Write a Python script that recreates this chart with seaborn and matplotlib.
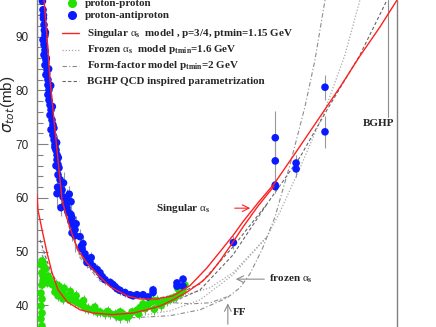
import numpy as np
import pandas as pd
import matplotlib
matplotlib.use("Agg")
import matplotlib.pyplot as plt
import seaborn as sns
from matplotlib.lines import Line2D

# ---- data: sqrt(s) in GeV, sigma_tot in mb ----
# proton-antiproton data
pbp_e = [2.05, 2.08, 2.10, 2.13, 2.15, 2.18, 2.08, 2.13, 2.18, 2.13, 2.23, 2.18, 2.29, 2.23,
         2.34, 2.34, 2.40, 2.34, 2.40, 2.46, 2.52, 2.46, 2.58, 2.64, 2.52, 2.64, 2.71, 2.77,
         2.77, 2.84, 2.91, 2.91, 2.98, 3.05, 2.84, 2.98, 3.13, 2.95, 3.28, 2.91, 3.36, 3.70,
         4.07, 3.52, 3.20, 3.70, 3.79, 4.07, 4.17, 4.07, 4.27, 4.48, 4.17, 4.48, 5.05, 5.42,
         5.30, 5.69, 5.97, 6.41, 5.97, 6.90, 7.59, 8.15, 8.55, 9.20, 10.4, 11.1, 11.7, 12.3,
         13.2, 14.9, 16.8, 18.0, 19.8, 22.9, 25.8, 29.1, 29.1, 51.7, 51.7, 59.8, 59.8,
         2.10, 2.20, 2.25, 2.38, 2.50, 2.60, 2.70, 2.88, 3.00, 3.40, 3.90, 4.60, 5.20, 6.60,
         200, 546, 546, 546, 546, 900, 900, 1800, 1800]
pbp_s = [96.6, 95.0, 93.4, 92.2, 91.2, 90.3, 89.4, 88.5, 87.5, 86.6, 85.7, 84.7, 83.8, 82.9,
         82.0, 81.0, 80.1, 79.2, 78.2, 77.3, 76.4, 75.4, 74.5, 73.6, 72.7, 71.7, 70.8, 69.9,
         69.4, 68.9, 68.0, 67.1, 66.2, 65.6, 66.0, 64.3, 63.4, 62.0, 61.5, 60.8, 60.2, 59.7,
         59.3, 58.7, 58.2, 58.2, 57.4, 56.9, 56.3, 55.7, 55.0, 54.1, 53.5, 53.0, 52.8, 51.5,
         50.5, 49.6, 48.6, 48.0, 48.0, 47.3, 46.7, 46.1, 45.4, 44.8, 44.3, 43.9, 43.5, 43.1,
         42.8, 42.4, 42.0, 41.8, 42.0, 42.0, 41.6, 42.9, 42.4, 44.2, 43.6, 44.9, 43.6,
         94.0, 90.8, 86.0, 84.0, 80.9, 77.0, 73.0, 70.3, 67.5, 62.8, 60.7, 55.2, 51.0, 48.9,
         51.7, 71.2, 66.9, 62.4, 62.1, 66.5, 65.4, 80.6, 72.3]
pbp_err = [0.5, 0.5, 0.5, 0.5, 0.5, 0.5, 0.5, 0.5, 0.5, 0.5, 0.5, 0.5, 0.5, 0.5,
           0.5, 0.5, 0.5, 0.5, 0.5, 0.5, 0.8, 0.5, 0.8, 0.8, 0.5, 0.8, 0.8, 1.0,
           1.0, 1.0, 1.0, 1.5, 1.0, 1.5, 1.0, 1.5, 2.0, 1.5, 1.5, 2.5, 1.5, 2.0,
           2.0, 2.0, 1.5, 1.5, 1.5, 1.5, 1.5, 2.5, 1.5, 1.5, 1.5, 3.0, 1.5, 1.5,
           1.5, 1.5, 1.0, 1.0, 1.0, 1.0, 1.0, 1.0, 1.0, 1.0, 0.8, 0.8, 0.8, 0.8,
           0.8, 0.8, 0.5, 0.5, 0.5, 0.5, 0.5, 1.0, 1.0, 0.8, 0.8, 0.8, 0.8,
           0.5, 0.5, 0.5, 0.5, 0.8, 0.8, 1.0, 1.5, 2.0, 2.0, 1.5, 1.5, 1.0, 1.0,
           1.2, 5.0, 5.0, 1.2, 1.2, 1.5, 1.5, 2.3, 3.0]

# proton-proton data
pp_e = [1.98, 2.03, 2.08, 2.13, 2.03, 2.08, 2.13, 2.08, 2.29, 2.03, 1.98, 2.03, 1.98, 2.03,
        1.98, 2.03, 1.98, 2.34, 2.46, 2.64, 2.91, 3.13, 3.28, 3.36, 3.52, 2.77, 2.98, 3.70,
        3.36, 3.97, 4.27, 4.48, 4.81, 5.30, 5.69, 6.11, 6.90, 7.59, 8.15, 9.20, 10.4, 11.7,
        13.2, 14.2, 15.6, 13.2, 17.6, 19.8, 21.3, 22.9, 25.2, 27.0, 29.1, 32.0, 32.8, 37.0,
        40.7, 43.7, 47.0, 55.6, 59.8, 62.7,
        2.20, 2.55, 2.85, 3.05, 3.45, 4.00, 4.60, 5.50, 7.20, 9.80, 12.0, 16.2, 20.6, 24.0,
        30.0, 35.5, 50.0, 53.0]
pp_s = [47.6, 48.3, 48.0, 47.1, 46.1, 45.5, 45.1, 44.6, 44.2, 43.8, 42.3, 41.2, 39.9, 38.6,
        37.5, 36.2, 35.7, 45.5, 44.8, 43.8, 43.3, 42.9, 42.5, 42.1, 41.8, 42.5, 41.8, 41.4,
        41.2, 41.0, 41.4, 40.8, 40.5, 40.1, 39.6, 39.4, 39.2, 38.8, 38.8, 38.5, 38.5, 38.3,
        38.8, 38.4, 37.8, 37.8, 38.8, 39.1, 39.6, 40.3, 39.9, 40.5, 40.9, 40.9, 40.5, 40.6,
        40.9, 41.2, 41.4, 42.2, 42.8, 43.8,
        46.8, 44.0, 43.9, 43.6, 43.2, 42.6, 41.8, 40.9, 39.7, 38.9, 38.2, 38.0, 38.4, 39.4,
        39.3, 40.0, 41.6, 43.1]
pp_err = [0.8] * 20 + [1.0] * 42 + [1.0] * 18

# model curves
sing_pbp_e = [2.13, 2.29, 2.46, 2.58, 2.91, 3.28, 3.61, 3.97, 4.81, 5.97, 8.15, 10.4, 15.6,
              21.3, 32.0, 47.0, 70.7, 106, 145, 198, 252, 361, 530, 919, 1596, 2576, 4158,
              6723, 10120]
sing_pbp_s = [96.8, 89.9, 82.0, 78.2, 68.9, 59.6, 56.9, 54.4, 50.3, 47.9, 45.3, 43.5, 41.8,
              41.2, 41.2, 41.8, 43.7, 47.0, 50.0, 53.0, 55.6, 59.1, 62.6, 68.8, 75.1, 80.6,
              86.4, 91.8, 96.8]
sing_pp_e = [1.80, 1.84, 2.03, 2.29, 2.58, 2.98, 3.70, 5.05, 6.90, 11.1, 18.0, 25.2, 34.4,
             47.0, 65.8, 96.5, 114, 145, 198, 252, 361, 530]
sing_pp_s = [60.6, 57.8, 54.1, 49.8, 46.1, 42.9, 40.7, 39.2, 38.6, 38.3, 38.6, 39.2, 39.9,
             41.05, 42.5, 44.6, 45.9, 48.3, 51.8, 54.6, 58.5, 62.2]

froz_pbp_e = [2.13, 2.46, 2.91, 3.52, 5.05, 8.15, 16.8, 34.4, 70.7, 114, 198, 448, 611, 988,
              1800, 2904, 4158]
froz_pbp_s = [96.8, 81.0, 68.9, 57.8, 49.4, 45.1, 42.2, 41.4, 42.2, 43.3, 46.1, 52.8, 57.4,
              65.6, 76.4, 86.6, 96.8]
froz_pp_e = [2.03, 2.46, 3.13, 5.05, 10.4, 21.3, 43.7, 89.8, 198, 448]
froz_pp_s = [50.4, 45.7, 42.4, 39.6, 38.3, 38.1, 39.0, 41.05, 45.7, 52.8]

ff_pbp_e = [2.13, 2.46, 2.91, 3.52, 5.05, 8.15, 16.8, 34.4, 70.7, 114, 171]
ff_pbp_s = [96.8, 80.65, 68.6, 57.4, 48.9, 44.6, 41.8, 40.7, 40.3, 40.5, 41.6]
ff_pp_e = [2.03, 3.13, 6.41, 16.8, 43.7, 89.8, 171, 234, 298, 397, 543, 778, 1114, 1416, 1800]
ff_pp_s = [49.4, 41.8, 38.8, 37.7, 38.1, 39.2, 41.4, 43.3, 45.9, 50.4, 56.5, 66.2, 77.0, 85.7, 96.8]

bghp_pbp_e = [2.13, 2.29, 2.58, 2.91, 3.28, 3.97, 5.05, 8.15, 15.6, 27.0, 47.0, 89.8, 198,
              448, 988, 1889, 4158, 7960]
bghp_pbp_s = [96.8, 89.9, 78.2, 68.9, 59.6, 54.1, 49.4, 45.1, 41.8, 41.2, 41.8, 44.0, 50.9,
              58.9, 67.6, 76.4, 86.6, 96.8]
bghp_pp_e = [1.94, 2.46, 3.70, 6.90, 18.0, 47.0, 89.8, 198, 448]
bghp_pp_s = [52.2, 46.6, 41.05, 38.8, 38.6, 40.7, 42.9, 49.4, 58.9]

legend_pts = ["proton-proton", "proton-antiproton"]
legend_lines = [r"Singular $\alpha_{\rm s}$  model , p=3/4, ptmin=1.15 GeV",
                r"Frozen $\alpha_{\rm s}$  model p$_{\rm tmin}$=1.6 GeV",
                r"Form-factor model p$_{\rm tmin}$=2 GeV",
                "BGHP QCD inspired parametrization"]

sns.set_theme(style="white")
plt.rcParams["font.family"] = ["Liberation Serif", "DejaVu Serif"]
plt.rcParams["mathtext.fontset"] = "custom"
plt.rcParams["mathtext.rm"] = "Liberation Serif:bold"
plt.rcParams["mathtext.it"] = "Liberation Serif"

fig = plt.figure(figsize=(4.36, 3.27), dpi=100)
ax = fig.add_axes([37 / 436, 0, 360 / 436, 1])

gray = "#8c8c8c"
red = "#ff2020"
green = "#22e000"
blue = "#0a1cff"
dotted = (0, (1, 1.5))
dashdot = (0, (4, 2, 1, 2))
dashed = (0, (3, 2))

def curve(e, s, **kw):
    df = pd.DataFrame({"e": e, "s": s})
    sns.lineplot(data=df, x="e", y="s", sort=False, estimator=None, ax=ax, **kw)

curve(froz_pbp_e, froz_pbp_s, color="#a8a8a8", lw=0.9, ls=dotted)
curve(froz_pp_e, froz_pp_s, color="#a8a8a8", lw=0.9, ls=dotted)
curve(ff_pbp_e, ff_pbp_s, color=gray, lw=0.8, ls=dashdot)
curve(ff_pp_e, ff_pp_s, color=gray, lw=0.8, ls=dashdot)
curve(bghp_pbp_e, bghp_pbp_s, color="#666666", lw=0.8, ls=dashed)
curve(bghp_pp_e, bghp_pp_s, color="#666666", lw=0.8, ls=dashed)

ax.errorbar(pbp_e, pbp_s, yerr=pbp_err, fmt="none", ecolor="#999999", elinewidth=0.8, zorder=2)
ax.errorbar(pp_e, pp_s, yerr=pp_err, fmt="none", ecolor="#999999", elinewidth=0.8, zorder=2)

sns.scatterplot(x=pp_e, y=pp_s, color=green, s=30, edgecolor="none", ax=ax, zorder=3)
sns.scatterplot(x=pbp_e, y=pbp_s, color=blue, s=30, edgecolor="none", ax=ax, zorder=4)

curve(sing_pbp_e, sing_pbp_s, color=red, lw=1.0, zorder=5)
curve(sing_pp_e, sing_pp_s, color=red, lw=1.0, zorder=5)

ax.set_xscale("log")
ax.set_xlim(1.80, 10120)
ax.set_ylim(36.04, 96.82)
ax.set_xlabel("")
ax.set_ylabel("")
ax.set_xticks([])
ax.minorticks_off()
ax.set_yticks([40, 50, 60, 70, 80, 90])
ax.set_yticks(np.arange(36, 98, 2), minor=True)
ax.tick_params(axis="y", which="major", direction="in", length=8, width=0.8, color="#808080",
               left=True, labelsize=8.5, labelfontfamily="Liberation Sans", pad=6)
ax.tick_params(axis="y", which="minor", direction="in", length=4, width=0.8, color="#808080",
               left=True)
for side in ["top", "bottom"]:
    ax.spines[side].set_visible(False)
for side in ["left", "right"]:
    ax.spines[side].set_color("#808080")
    ax.spines[side].set_linewidth(1.0)

fig.text(8 / 436, 1 - 104 / 327, r"$\sigma_{tot}$(mb)", rotation=90, ha="center", va="center",
         fontsize=11, family="Liberation Sans", math_fontfamily="dejavusans")

# legend, drawn row by row
def fx(px):
    return px / 436

def fy(py):
    return 1 - py / 327

lab = dict(family="Liberation Serif", weight="bold", fontsize=7.9, va="center", ha="left")
for (py, col, txt) in [(3, green, legend_pts[0]), (15, blue, legend_pts[1])]:
    fig.add_artist(Line2D([fx(72)], [fy(py)], ls="none", marker="o", ms=5.5, color=col,
                          transform=fig.transFigure))
    fig.text(fx(85), fy(py), txt, **lab)
styles = [(red, 1.0, "-"), ("#a8a8a8", 0.9, dotted), (gray, 0.8, dashdot), ("#666666", 0.8, dashed)]
for py, (col, lw, ls), txt in zip([33, 50, 66, 81], styles, legend_lines):
    fig.add_artist(Line2D([fx(62), fx(79)], [fy(py), fy(py)], color=col, lw=lw, ls=ls,
                          transform=fig.transFigure))
    fig.text(fx(87), fy(py), txt, **lab)

# annotations
ann = dict(family="Liberation Serif", weight="bold", fontsize=8.0)
ax.annotate("", xy=(320, 58.1), xytext=(193, 58.1),
            arrowprops=dict(arrowstyle="->", color=red, lw=0.8))
ax.text(114, 58.1, r"Singular $\alpha_{\rm s}$", ha="right", va="center", **ann)
ax.annotate("", xy=(198, 44.9), xytext=(448, 44.9),
            arrowprops=dict(arrowstyle="->", color=gray, lw=0.8))
ax.text(470, 44.9, r"frozen $\alpha_{\rm s}$", ha="left", va="center", **ann)
ax.annotate("", xy=(175, 40.9), xytext=(175, 36.0),
            arrowprops=dict(arrowstyle="->", color=gray, lw=0.8))
ax.text(195, 38.7, "FF", ha="left", va="center", **ann)
ax.plot([8150, 8150], [96.82, 75.1], color=gray, lw=0.8)
ax.text(6577, 73.8, "BGHP", ha="center", va="center", **ann)

fig.savefig("out.png", dpi=100)
